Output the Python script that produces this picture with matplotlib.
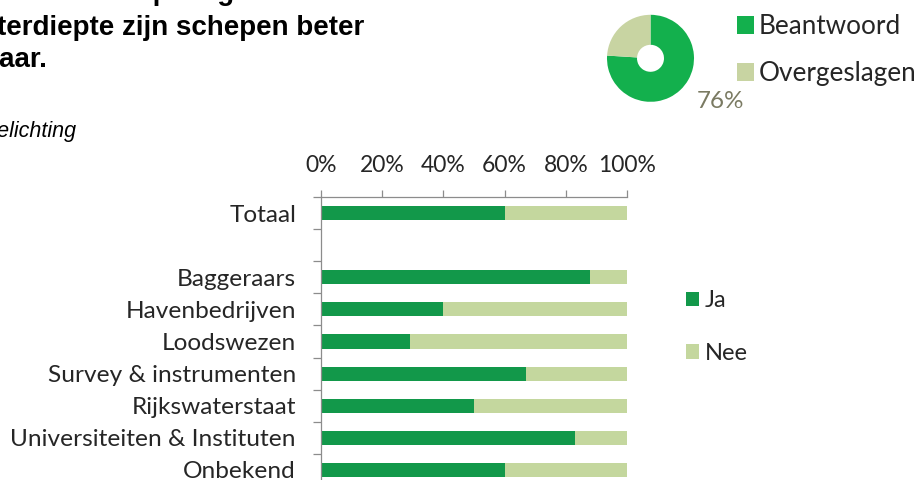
import matplotlib
matplotlib.use("Agg")
import matplotlib.pyplot as plt
from matplotlib.patches import Patch
import numpy as np

# Survey answers per respondent group (share of "Ja", in %)
categories = ["Totaal", "", "Baggeraars", "Havenbedrijven", "Loodswezen",
              "Survey & instrumenten", "Rijkswaterstaat",
              "Universiteiten & Instituten", "Onbekend"]
ja = [60, 0, 88, 40, 29, 67, 50, 83, 60]
nee = [40, 0, 12, 60, 71, 33, 50, 17, 40]
series_names = ["Ja", "Nee"]
xtick_values = [0, 20, 40, 60, 80, 100]
xtick_labels = ["0%", "20%", "40%", "60%", "80%", "100%"]

# Response rate of the question
pie_labels = ["Beantwoord", "Overgeslagen"]
pie_values = [76, 24]
pie_text = "76%"

title_lines = ["Door een betere bepaling van de",
               "waterdiepte zijn schepen beter",
               "inzetbaar."]
subtitle = "Toelichting"

DARK = "#12984A"
LIGHT = "#C4D79E"
PIE_GREEN = "#13B04D"
PIE_LIGHT = "#C8D4A2"
TEXT = "#262626"
AXIS = "#8C8C8C"

W, H = 917, 480
fig = plt.figure(figsize=(W / 100, H / 100), dpi=100)
plt.rcParams["font.family"] = ["Lato", "DejaVu Sans"]

def fx(px):
    return px / W

def fy(py):
    return 1 - py / H

# ---- heading text (left column) ----
title_font = dict(family="Liberation Sans", fontweight="bold", fontsize=20,
                  color="black", va="baseline", ha="left")
fig.text(fx(-99), fy(0.5), title_lines[0], **title_font)
fig.text(fx(-40), fy(35), title_lines[1], **title_font)
fig.text(fx(-81), fy(67), title_lines[2], **title_font)
fig.text(fx(-26), fy(137), subtitle, family="Liberation Sans", style="italic",
         fontsize=15.5, color="black", va="baseline", ha="left")

# ---- stacked bar chart ----
left, right, top, bottom = 321, 627, 197, 486
ax = fig.add_axes([fx(left), fy(bottom), fx(right - left), (bottom - top) / H])
y = np.arange(len(categories))
bar_h = 0.44
ax.barh(y, ja, height=bar_h, color=DARK, label=series_names[0], linewidth=0)
ax.barh(y, nee, left=ja, height=bar_h, color=LIGHT, label=series_names[1],
        linewidth=0)
ax.set_xlim(0, 100)
ax.set_ylim(len(categories) - 0.5, -0.5)

for side in ("right", "bottom"):
    ax.spines[side].set_visible(False)
for side in ("left", "top"):
    ax.spines[side].set_color(AXIS)
    ax.spines[side].set_linewidth(0.9)

ax.xaxis.tick_top()
ax.set_xticks(xtick_values)
ax.set_xticklabels(xtick_labels)
ax.tick_params(axis="x", which="major", direction="out", length=5, width=0.9,
               color=AXIS, pad=10, labelsize=16.5, labelcolor=TEXT)

ax.set_yticks(y)
ax.set_yticklabels(categories)
ax.tick_params(axis="y", which="major", length=0, pad=18, labelsize=17.6,
               labelcolor=TEXT)
ax.set_yticks(np.arange(-0.5, len(categories) - 0.4, 1.0), minor=True)
ax.tick_params(axis="y", which="minor", direction="out", length=6, width=0.9,
               color=AXIS)

handles = [Patch(facecolor=DARK, label=series_names[0]),
           Patch(facecolor=LIGHT, label=series_names[1])]
fig.legend(handles=handles, loc="upper left",
           bbox_to_anchor=(fx(686), fy(290)), frameon=False,
           borderpad=0, borderaxespad=0,
           fontsize=17, handlelength=0.55, handleheight=0.55,
           handletextpad=0.25, labelspacing=1.35, labelcolor=TEXT)

# ---- response donut ----
cx, cy, r = 650.5, 58.3, 43.5
pax = fig.add_axes([fx(cx - r), fy(cy + r), fx(2 * r), 2 * r / H])
pax.pie(pie_values, colors=[PIE_GREEN, PIE_LIGHT], startangle=90,
        counterclock=False, radius=1,
        wedgeprops=dict(width=0.69, linewidth=0))
pax.set_xlim(-1, 1)
pax.set_ylim(-1, 1)
pax.set_aspect("auto")
pax.axis("off")
fig.text(fx(697), fy(108.5), pie_text, fontsize=17.5, color="#7A7A62",
         va="baseline", ha="left")

pie_handles = [Patch(facecolor=PIE_GREEN, label=pie_labels[0]),
               Patch(facecolor=PIE_LIGHT, label=pie_labels[1])]
fig.legend(handles=pie_handles, loc="upper left",
           bbox_to_anchor=(fx(737), fy(14)), frameon=False,
           borderpad=0, borderaxespad=0,
           fontsize=18.8, handlelength=0.66, handleheight=0.66,
           handletextpad=0.18, labelspacing=0.85, labelcolor=TEXT)

fig.savefig("out.png", dpi=100)
